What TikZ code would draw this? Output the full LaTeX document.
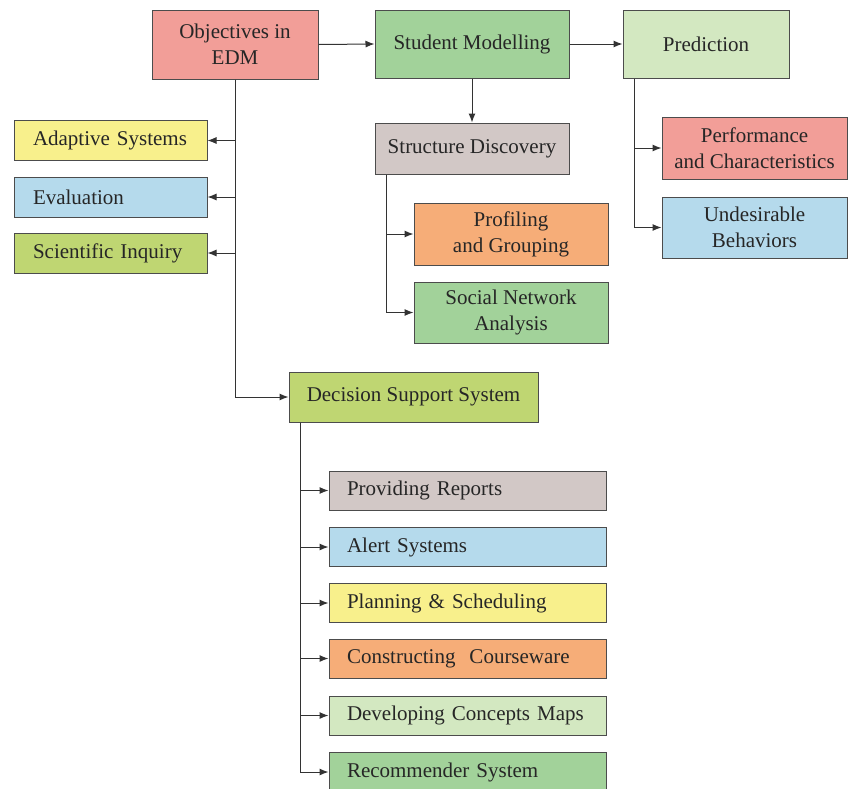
\documentclass[tikz,border=0pt]{standalone}
\usepackage{fontspec}
\setmainfont{Liberation Serif}
\usepackage{xcolor}
\usepackage{tikz}
\usetikzlibrary{arrows.meta,positioning}

\definecolor{cred}{HTML}{F29E98}
\definecolor{cgreen}{HTML}{A2D29A}
\definecolor{clgreen}{HTML}{D3E8C1}
\definecolor{cgrey}{HTML}{D2C8C6}
\definecolor{corange}{HTML}{F6AD78}
\definecolor{cblue}{HTML}{B5DAEC}
\definecolor{cyellow}{HTML}{F8F08C}
\definecolor{colive}{HTML}{BFD672}

\begin{document}
\begin{tikzpicture}[x=1pt,y=-1pt,
	box/.style={draw=black!70,line width=1pt,text=black!85,font=\fontsize{21}{26}\selectfont,inner sep=3pt},
	cbox/.style={box,align=center},
	lbox/.style={box,align=left,inner xsep=19pt,text width=155pt,minimum height=40pt},
	sbox/.style={box,align=left,inner xsep=18pt,text width=241pt,minimum height=39pt},
	arr/.style={-{Latex[length=9pt,width=7pt]},line width=1pt,draw=black!80}]
	\clip (0,0) rectangle (848,788);
	% top row
	\node[cbox,fill=cred,minimum width=166pt,minimum height=69pt] (obj) at (235,44.5) {Objectives in\\EDM};
	\node[cbox,fill=cgreen,minimum width=194pt,minimum height=68pt] (stud) at (472,44) {Student Modelling};
	\node[cbox,fill=clgreen,minimum width=166pt,minimum height=68pt] (pred) at (706,44) {Prediction};
	% student modelling branch
	\node[cbox,fill=cgrey,minimum width=194pt,minimum height=51pt] (struct) at (472,148.5) {Structure Discovery};
	\node[cbox,fill=corange,minimum width=194pt,minimum height=62pt] (prof) at (511,234) {Profiling\\and Grouping};
	\node[cbox,fill=cgreen,minimum width=194pt,minimum height=61pt] (social) at (511,312.5) {Social Network\\Analysis};
	% prediction branch
	\node[cbox,fill=cred,minimum width=185pt,minimum height=62pt] (perf) at (754.5,148) {Performance\\and Characteristics};
	\node[cbox,fill=cblue,minimum width=185pt,minimum height=61pt] (undes) at (754.5,227.5) {Undesirable\\Behaviors};
	% left column
	\node[lbox,fill=cyellow] (adapt) at (110.5,140.5) {Adaptive Systems};
	\node[lbox,fill=cblue] (eval) at (110.5,197) {Evaluation};
	\node[lbox,fill=colive] (sci) at (110.5,253) {Scientific Inquiry};
	% decision support
	\node[cbox,fill=colive,minimum width=249pt,minimum height=50pt] (dss) at (413.5,397) {Decision Support System};
	\node[sbox,fill=cgrey] (rep) at (467.5,490.5) {Providing Reports};
	\node[sbox,fill=cblue] (alert) at (467.5,547) {Alert Systems};
	\node[sbox,fill=cyellow] (plan) at (467.5,603) {Planning \& Scheduling};
	\node[sbox,fill=corange] (course) at (467.5,658.5) {Constructing~ Courseware};
	\node[sbox,fill=clgreen] (maps) at (467.5,715.5) {Developing Concepts Maps};
	\node[sbox,fill=cgreen] (recom) at (467.5,772) {Recommender System};
	% connectors
	\draw[arr] (obj.east) -- (stud.west);
	\draw[arr] (stud.east) -- (pred.west);
	\draw[arr] (stud.south) -- (struct.north);
	\draw[arr] (obj.south) |- (adapt.east);
	\draw[arr] (obj.south) |- (eval.east);
	\draw[arr] (obj.south) |- (sci.east);
	\draw[arr] (obj.south) |- (dss.west);
	\draw[arr] ([xshift=12pt]struct.south west) |- (prof.west);
	\draw[arr] ([xshift=12pt]struct.south west) |- (social.west);
	\draw[arr] ([xshift=12pt]pred.south west) |- (perf.west);
	\draw[arr] ([xshift=12pt]pred.south west) |- (undes.west);
	\draw[arr] ([xshift=12pt]dss.south west) |- (rep.west);
	\draw[arr] ([xshift=12pt]dss.south west) |- (alert.west);
	\draw[arr] ([xshift=12pt]dss.south west) |- (plan.west);
	\draw[arr] ([xshift=12pt]dss.south west) |- (course.west);
	\draw[arr] ([xshift=12pt]dss.south west) |- (maps.west);
	\draw[arr] ([xshift=12pt]dss.south west) |- (recom.west);
\end{tikzpicture}
\end{document}
